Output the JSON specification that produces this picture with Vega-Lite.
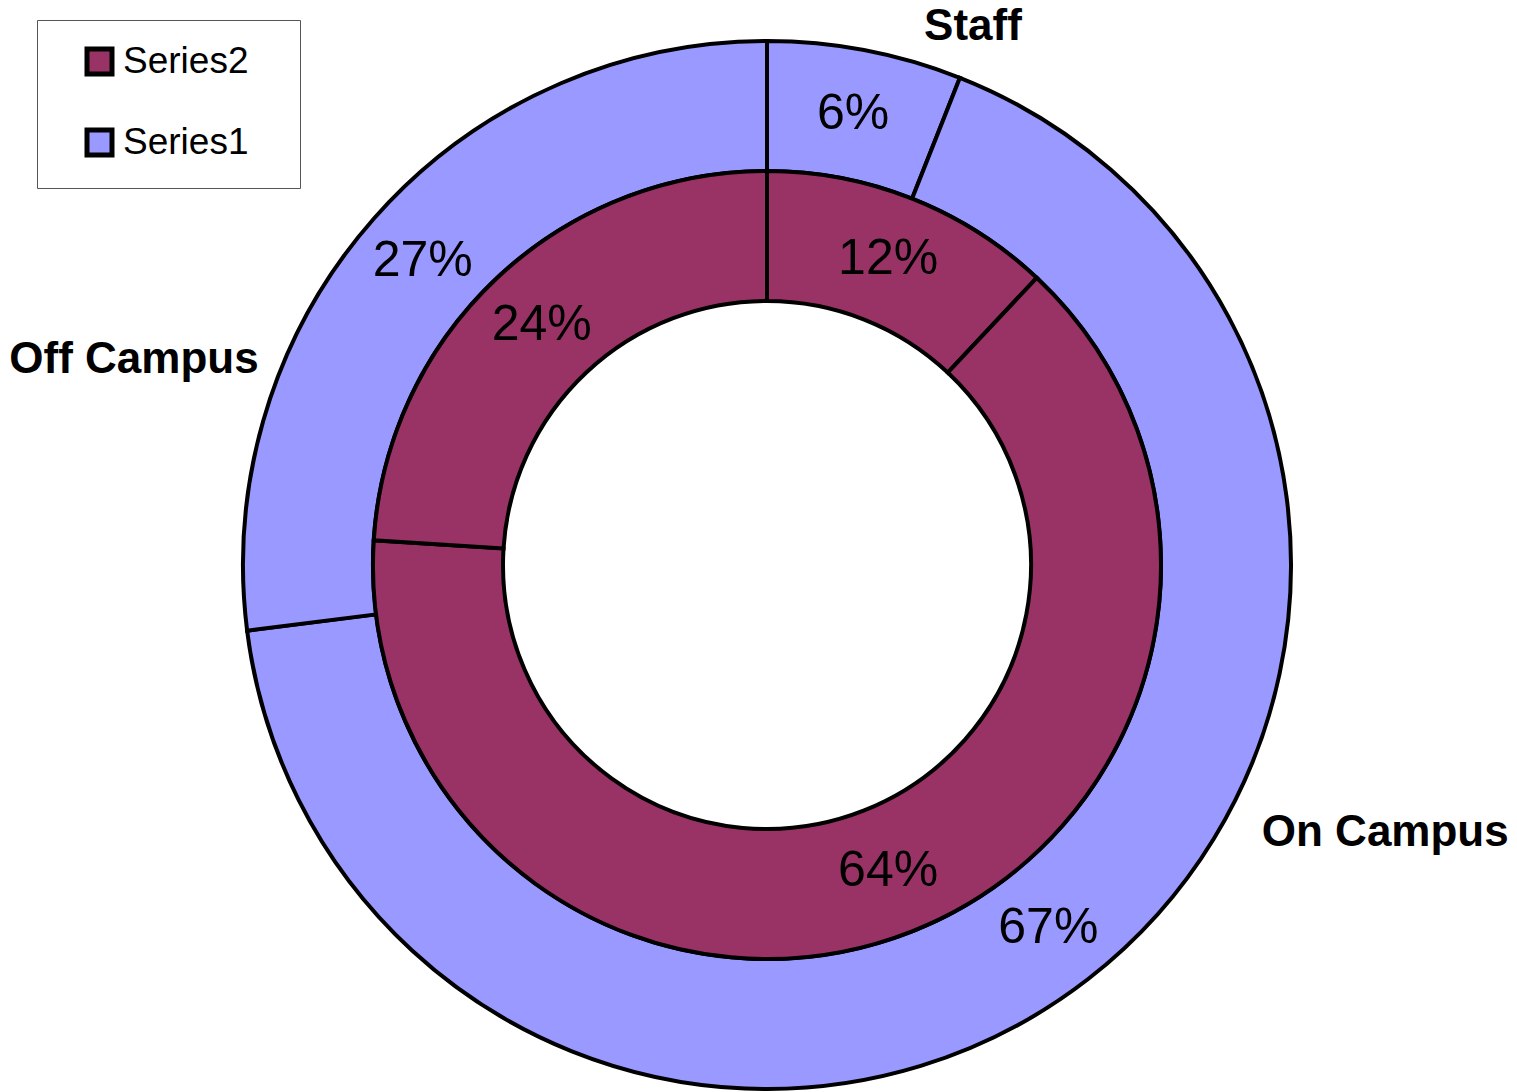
{
  "$schema": "https://vega.github.io/schema/vega-lite/v6.json",
  "width": 1500,
  "height": 1054,
  "autosize": "none",
  "padding": {"left": 17, "top": 38, "right": 0, "bottom": 0},
  "background": "white",
  "config": {"view": {"stroke": null}, "font": "Liberation Sans"},
  "data": {"values": [
    {"series": "Series1", "category": "Staff", "value": 0.06},
    {"series": "Series1", "category": "On Campus", "value": 0.67},
    {"series": "Series1", "category": "Off Campus", "value": 0.27},
    {"series": "Series2", "category": "Staff", "value": 0.12},
    {"series": "Series2", "category": "On Campus", "value": 0.64},
    {"series": "Series2", "category": "Off Campus", "value": 0.24}
  ]},
  "encoding": {
    "theta": {"field": "value", "type": "quantitative", "stack": true},
    "order": {"field": "category", "sort": "descending"}
  },
  "layer": [
    {
      "transform": [{"filter": "datum.series === 'Series1'"}],
      "mark": {"type": "arc", "outerRadius": 524, "innerRadius": 394, "stroke": "black", "strokeWidth": 4},
      "encoding": {
        "color": {
          "field": "series", "type": "nominal",
          "scale": {"domain": ["Series2", "Series1"], "range": ["#993366", "#9999FF"]},
          "legend": {
            "title": "\u00a0", "titleOrient": "right", "titlePadding": 29, "titleFontSize": 10,
            "orient": "none", "legendX": 20, "legendY": -18,
            "padding": 23, "rowPadding": 36,
            "labelFontSize": 37, "labelColor": "black", "labelFont": "Liberation Sans",
            "symbolType": "square", "symbolSize": 625, "symbolStrokeWidth": 5,
            "symbolStrokeColor": "black", "symbolOpacity": 1,
            "symbolOffset": 21, "labelOffset": 5,
            "strokeColor": "#555555", "fillColor": "white"
          }
        }
      }
    },
    {
      "transform": [{"filter": "datum.series === 'Series2'"}],
      "mark": {"type": "arc", "outerRadius": 394, "innerRadius": 264, "stroke": "black", "strokeWidth": 4},
      "encoding": {"color": {"field": "series", "type": "nominal"}}
    },
    {
      "transform": [{"filter": "datum.series === 'Series1'"}],
      "mark": {"type": "text", "radius": 459, "fontSize": 50, "color": "black"},
      "encoding": {"text": {"field": "value", "type": "quantitative", "format": ".0%"}}
    },
    {
      "transform": [{"filter": "datum.series === 'Series2'"}],
      "mark": {"type": "text", "radius": 329, "fontSize": 50, "color": "black"},
      "encoding": {"text": {"field": "value", "type": "quantitative", "format": ".0%"}}
    },
    {
      "transform": [{"filter": "datum.series === 'Series1'"}],
      "mark": {"type": "text", "radius": 560, "fontSize": 44, "fontWeight": "bold", "color": "black", "dx": 101, "dy": 12},
      "encoding": {"text": {"condition": {"test": "datum.category === 'Staff'", "field": "category"}, "value": ""}}
    },
    {
      "transform": [{"filter": "datum.series === 'Series1'"}],
      "mark": {"type": "text", "radius": 560, "fontSize": 44, "fontWeight": "bold", "color": "black", "dx": 275, "dy": -174},
      "encoding": {"text": {"condition": {"test": "datum.category === 'On Campus'", "field": "category"}, "value": ""}}
    },
    {
      "transform": [{"filter": "datum.series === 'Series1'"}],
      "mark": {"type": "text", "radius": 560, "fontSize": 44, "fontWeight": "bold", "color": "black", "dx": -213, "dy": 165},
      "encoding": {"text": {"condition": {"test": "datum.category === 'Off Campus'", "field": "category"}, "value": ""}}
    }
  ]
}
